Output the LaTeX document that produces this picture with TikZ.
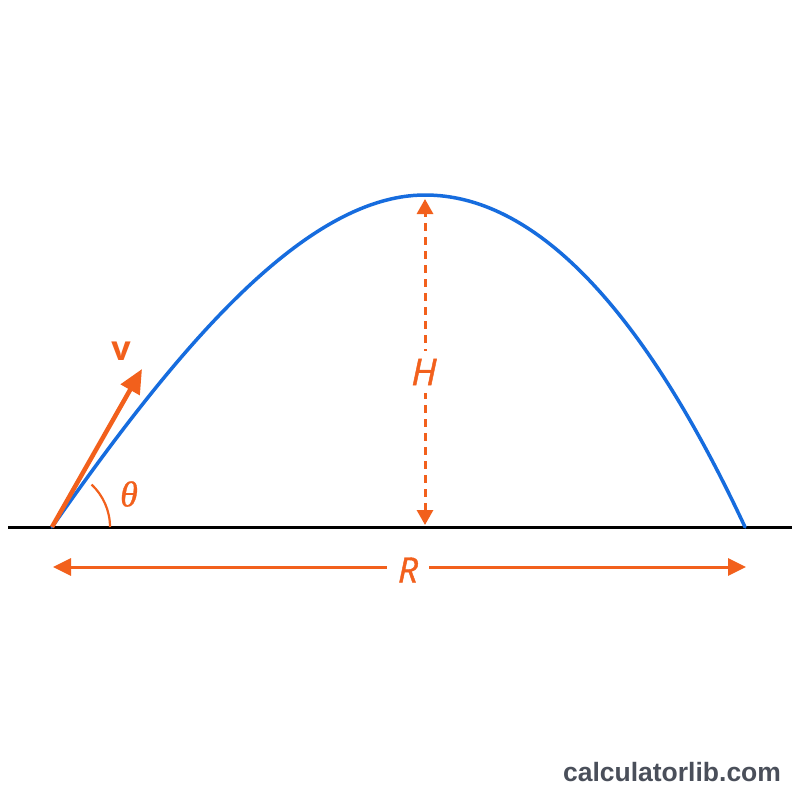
\documentclass[tikz,border=0pt]{standalone}
\usepackage{fontspec}
\setmainfont{Open Sans}
\newfontfamily\lblfont[FakeBold=1.2]{Open Sans}
\newfontfamily\wmfont{Liberation Sans}
\newfontfamily\thetafont[FakeBold=0.8]{Liberation Serif}
\usetikzlibrary{arrows.meta}
\definecolor{orng}{RGB}{242,96,28}
\definecolor{blu}{RGB}{22,108,222}
\definecolor{wmgray}{RGB}{74,79,90}
\tikzset{
  traj/.style={blu, line width=3.5pt, line join=round, line cap=round},
  ground/.style={black, line width=3pt},
  dimline/.style={orng, line width=3pt},
  lbl/.style={orng, inner sep=0pt},
  gaplbl/.style={orng, fill=white, inner xsep=11pt, inner ysep=8pt}
}
\begin{document}
\begin{tikzpicture}[x=1pt,y=-1pt]
\useasboundingbox (0,0) rectangle (800,800);
\fill[white] (0,0) rectangle (800,800);

% ground
\coordinate (G1) at (8,527);
\coordinate (G2) at (792,527);
\draw[ground] (G1) -- (G2);

% launch, apex and landing
\coordinate (O) at (52,527);
\coordinate (A) at (425,195);
\coordinate (L) at (745,527);

% trajectory
\draw[traj] (O) .. controls (167,363) and (300,195) .. (A)
               .. controls (532,195) and (640,302) .. (L);

% angle arc
\draw[orng, line width=2.2pt] (O) ++(58,0) arc[start angle=0, end angle=-47, radius=58];
\node[lbl] (theta) at (129,494) {\thetafont\itshape\fontsize{36}{36}\selectfont θ};

% velocity vector
\coordinate (V) at (142,369);
\draw[orng, line width=4.5pt, -{Triangle[length=24pt,width=21pt]}] (O) -- (V);
\node[lbl] (vlbl) at (121,351) {\fontsize{34}{34}\selectfont\bfseries v};

% height
\coordinate (Htop) at (425,199);
\coordinate (Hbot) at (425,525);
\draw[dimline, dash pattern=on 8pt off 6pt, {Triangle[length=15pt,width=16pt]}-{Triangle[length=15pt,width=16pt]}] (Hbot) -- (Htop);
\node[gaplbl] (H) at (424,372) {\lblfont\fontsize{37}{37}\selectfont\itshape H};

% range
\coordinate (Rl) at (53,567);
\coordinate (Rr) at (746,567);
\draw[dimline, {Triangle[length=18pt,width=17pt]}-{Triangle[length=18pt,width=17pt]}] (Rl) -- (Rr);
\node[gaplbl] (R) at (408,570) {\lblfont\fontsize{35}{35}\selectfont\itshape R};

% watermark
\node[wmgray, inner sep=0pt] (wm) at (672,772) {\wmfont\bfseries\fontsize{26.5}{26.5}\selectfont calculatorlib.com};
\end{tikzpicture}
\end{document}
